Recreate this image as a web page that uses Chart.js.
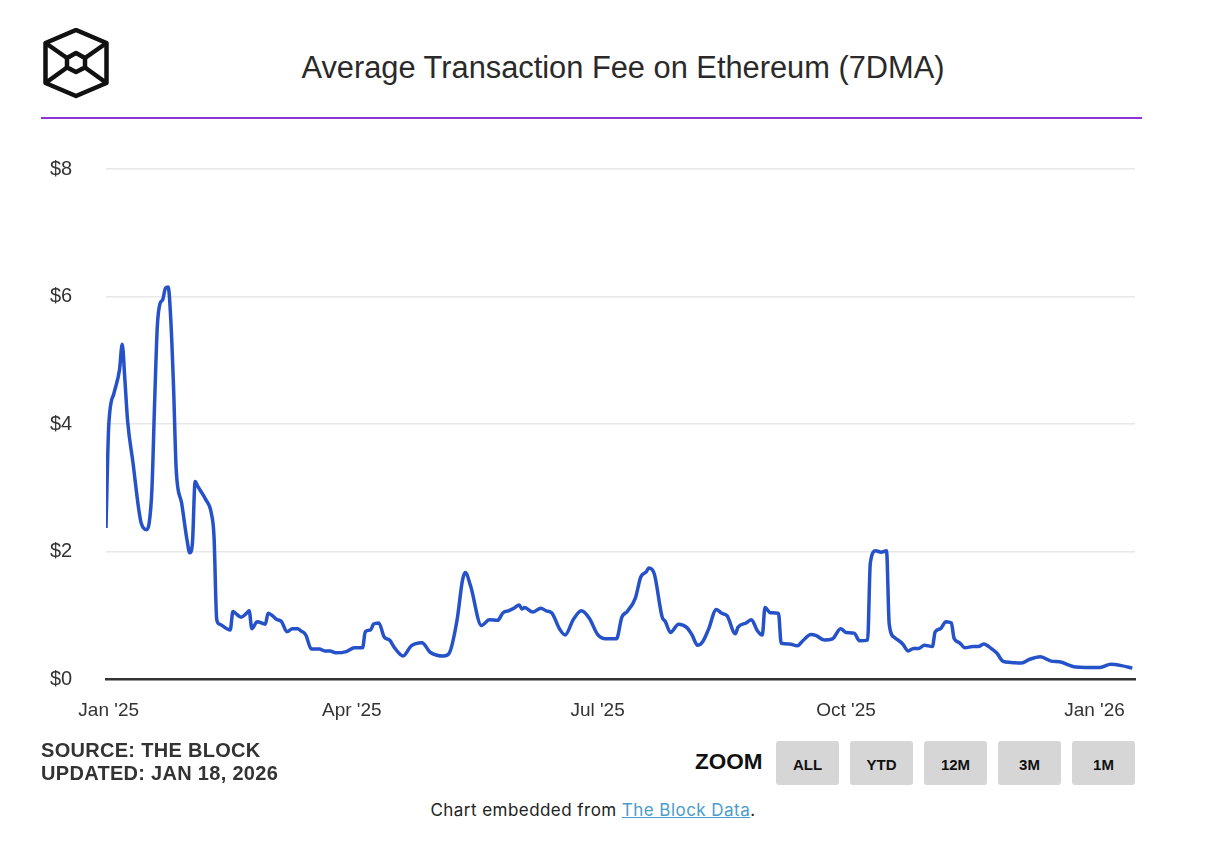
<!DOCTYPE html>
<html>
<head>
<meta charset="utf-8">
<title>Average Transaction Fee on Ethereum (7DMA)</title>
<script src="https://cdn.jsdelivr.net/npm/chart.js@4.4.1/dist/chart.umd.min.js"></script>
<style>
  html, body { margin: 0; padding: 0; background: #fff; }
  body { width: 1214px; height: 852px; position: relative; overflow: hidden;
         font-family: "Liberation Sans", Arial, Helvetica, sans-serif; color: #333; }
  #logo { position: absolute; left: 40px; top: 28px; }
  #title { position: absolute; left: 0; width: 1246px; top: 48px; text-align: center;
           font-size: 30.8px; color: #2a2a2a; line-height: 40px; }
  #rule { position: absolute; left: 41px; top: 117px; width: 1101px; height: 2px; background: #8e35d6; }
  #chartBox { position: absolute; left: 0; top: 140px; width: 1214px; height: 600px; }
  #source { position: absolute; left: 41px; top: 739px; font-size: 20px; font-weight: bold;
            letter-spacing: 0.3px; line-height: 23px; color: #333; }
  #zoomLabel { position: absolute; left: 695px; top: 749px; font-size: 22.5px; font-weight: bold; color: #111; }
  .btn { position: absolute; top: 741px; width: 63px; height: 44px; background: #d6d6d6; border-radius: 3px;
         font-size: 15px; font-weight: bold; color: #111; text-align: center; line-height: 48px; }
  #embed { position: absolute; left: 0; width: 1186px; top: 800px; text-align: center;
           font-family: Inter, "Liberation Sans", sans-serif; font-size: 17px; letter-spacing: 0.45px; color: #222; }
  #embed a { color: #4a9ccb; text-decoration: underline; }
</style>
</head>
<body>
<svg id="logo" width="72" height="72" viewBox="0 0 72 72">
  <g fill="none" stroke="#111" stroke-width="4.5" stroke-linejoin="round">
    <polygon points="36,2 66.5,15 66.5,55 36,68 5.5,55 5.5,15"/>
    <polygon points="36,25 45,30 45,39.5 36,44 27,39.5 27,30"/>
    <line x1="5.5" y1="15" x2="27" y2="30"/>
    <line x1="66.5" y1="15" x2="45" y2="30"/>
    <line x1="5.5" y1="55" x2="27" y2="39.5"/>
    <line x1="66.5" y1="55" x2="45" y2="39.5"/>
  </g>
</svg>
<div id="title">Average Transaction Fee on Ethereum (7DMA)</div>
<div id="rule"></div>
<div id="chartBox"><canvas id="feeChart"></canvas></div>
<div id="source">SOURCE: THE BLOCK<br>UPDATED: JAN 18, 2026</div>
<div id="zoomLabel">ZOOM</div>
<div class="btn" style="left:776px">ALL</div>
<div class="btn" style="left:850px">YTD</div>
<div class="btn" style="left:924px">12M</div>
<div class="btn" style="left:998px">3M</div>
<div class="btn" style="left:1072px">1M</div>
<div id="embed">Chart embedded from <a href="#">The Block Data</a>.</div>

<script>
// days since Jan 1, 2025
const dayOffsets = [
  -1, 0, 2, 4, 5, 6, 7, 9, 11, 12, 14, 15, 16, 17, 18, 19, 20, 21, 22, 23, 24, 25, 27, 29, 30, 31, 32, 33,
  36, 38, 39, 40, 41, 45, 46, 47, 49, 51, 52, 53, 55, 58, 59, 61, 62, 64, 66, 68, 70, 71, 73, 75, 78, 80,
  82, 84, 88, 91, 94, 95, 97, 98, 100, 102, 104, 106, 109, 112, 116, 119, 124, 126, 129, 131, 132, 134,
  138, 141, 144, 146, 148, 150, 152, 153, 154, 157, 160, 162, 164, 167, 169, 172, 175, 178, 181, 184,
  188, 190, 192, 195, 197, 199, 200, 202, 205, 206, 208, 211, 214, 216, 218, 220, 222, 225, 227, 229,
  232, 233, 236, 238, 240, 242, 243, 245, 248, 249, 252, 255, 257, 260, 262, 265, 268, 271, 273, 276,
  278, 281, 282, 284, 286, 288, 289, 291, 294, 296, 298, 300, 302, 305, 306, 308, 310, 312, 313, 315,
  317, 320, 322, 324, 327, 329, 331, 334, 338, 341, 345, 349, 352, 358, 367, 371, 375, 379
];
// average fee in USD (7-day moving average)
const avgFee = [
  2.37, 3.96, 4.49, 4.85, 5.25, 4.69, 4.05, 3.39, 2.70, 2.45, 2.34, 2.45, 2.97, 4.33, 5.53, 5.89, 5.95, 6.13, 6.15, 5.63, 4.59, 3.28, 2.76, 2.18, 1.98, 2.13, 3.10, 3.02,
  2.81, 2.60, 2.23, 0.93, 0.86, 0.77, 1.06, 1.03, 0.97, 1.03, 1.07, 0.79, 0.90, 0.86, 1.03, 0.98, 0.94, 0.90, 0.74, 0.79, 0.79, 0.76, 0.69, 0.47, 0.47, 0.44,
  0.44, 0.41, 0.43, 0.49, 0.49, 0.74, 0.77, 0.86, 0.88, 0.66, 0.61, 0.48, 0.36, 0.52, 0.57, 0.42, 0.36, 0.40, 0.93, 1.55, 1.67, 1.46,
  0.84, 0.93, 0.92, 1.04, 1.07, 1.11, 1.16, 1.10, 1.12, 1.05, 1.11, 1.07, 1.04, 0.78, 0.69, 0.93, 1.07, 0.95, 0.70, 0.63,
  0.63, 0.97, 1.06, 1.27, 1.60, 1.68, 1.74, 1.65, 0.96, 0.91, 0.73, 0.86, 0.81, 0.69, 0.53, 0.59, 0.77, 1.09, 1.03, 0.99,
  0.71, 0.81, 0.88, 0.93, 0.77, 0.69, 1.12, 1.04, 1.03, 0.56, 0.55, 0.52, 0.60, 0.70, 0.68, 0.61, 0.63, 0.79, 0.73, 0.72,
  0.60, 0.61, 1.82, 2.01, 1.99, 2.01, 0.86, 0.65, 0.55, 0.44, 0.48, 0.48, 0.53, 0.51, 0.74, 0.79, 0.90, 0.88, 0.64, 0.57,
  0.49, 0.51, 0.51, 0.55, 0.47, 0.40, 0.28, 0.26, 0.25, 0.31, 0.35, 0.28, 0.27, 0.19, 0.18, 0.23, 0.21, 0.17
];
const tickDays = [0, 90, 181, 273, 365];
const tickLabels = ["Jan '25", "Apr '25", "Jul '25", "Oct '25", "Jan '26"];

const points = dayOffsets.map((d, i) => ({ x: d, y: avgFee[i] }));
const fontFamily = '"Liberation Sans", Arial, Helvetica, sans-serif';

new Chart(document.getElementById('feeChart'), {
  type: 'line',
  data: {
    datasets: [{
      label: 'Average Transaction Fee (7DMA)',
      data: points,
      borderColor: '#2652c9',
      borderWidth: 3.5,
      pointRadius: 0,
      tension: 0.25,
      cubicInterpolationMode: 'monotone',
      fill: false
    }]
  },
  options: {
    responsive: true,
    maintainAspectRatio: false,
    animation: false,
    layout: { padding: { left: 50, right: 79, top: 29, bottom: 16 } },
    plugins: { legend: { display: false }, tooltip: { enabled: false } },
    scales: {
      x: {
        type: 'linear',
        min: -1,
        max: 380,
        afterBuildTicks: axis => { axis.ticks = tickDays.map(v => ({ value: v })); },
        afterFit: scale => { scale.height = 45; },
        grid: { display: false },
        border: { display: true, color: '#333', width: 2.5 },
        ticks: {
          autoSkip: false,
          maxRotation: 0,
          padding: 12,
          color: '#333',
          font: { family: fontFamily, size: 19 },
          callback: value => tickLabels[tickDays.indexOf(value)]
        }
      },
      y: {
        min: 0,
        max: 8,
        afterFit: scale => { scale.width = 56; },
        grid: { color: '#e8e8e8', lineWidth: 1.5, drawTicks: false },
        border: { display: false },
        ticks: {
          stepSize: 2,
          padding: 3,
          crossAlign: 'far',
          color: '#333',
          font: { family: fontFamily, size: 20 },
          callback: value => '$' + value
        }
      }
    }
  }
});
</script>
</body>
</html>
